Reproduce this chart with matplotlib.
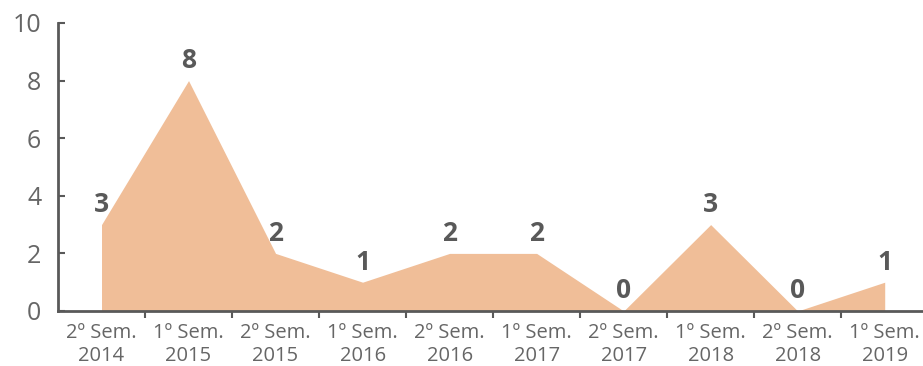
import matplotlib
matplotlib.use("Agg")
import matplotlib.pyplot as plt
import numpy as np

categories = ["2º Sem.\n2014", "1º Sem.\n2015", "2º Sem.\n2015", "1º Sem.\n2016", "2º Sem.\n2016",
              "1º Sem.\n2017", "2º Sem.\n2017", "1º Sem.\n2018", "2º Sem.\n2018", "1º Sem.\n2019"]
values = [3, 8, 2, 1, 2, 2, 0, 3, 0, 1]
y_ticks = [0, 2, 4, 6, 8, 10]

plt.rcParams['font.family'] = ['Open Sans', 'DejaVu Sans']

fig = plt.figure(figsize=(9.23, 3.66), dpi=100)
ax = fig.add_axes([58/923, 55/366, 1 - 58/923, (311-23)/366])

x = np.arange(len(values))
ax.fill_between(x, values, 0, color="#F0BE98", linewidth=0)

for xi, v in zip(x, values):
    ax.annotate(str(v), (xi, v), xytext=(0, 9), textcoords="offset points",
                ha="center", va="baseline", fontsize=19, fontweight="bold", color="#595959")

ax.set_xlim(-0.5, 9.44)
ax.set_ylim(0, 10)
ax.set_yticks(y_ticks)
ax.set_yticklabels([str(t) for t in y_ticks])
ax.tick_params(axis="y", direction="in", length=5, width=1.5, colors="#595959",
               labelsize=18, pad=12)
for lab in ax.get_yticklabels():
    lab.set_color("#666666")

ax.set_xticks(x)
ax.set_xticklabels(categories, linespacing=1.15)
ax.tick_params(axis="x", which="major", length=0, labelsize=14.5, labelcolor="#666666", pad=9)
ax.set_xticks(x[:-1] + 0.5, minor=True)
ax.tick_params(axis="x", which="minor", direction="out", length=5, width=1.5, color="#595959")

for s in ["top", "right"]:
    ax.spines[s].set_visible(False)
for s in ["left", "bottom"]:
    ax.spines[s].set_color("#595959")
    ax.spines[s].set_linewidth(2)

fig.savefig("out.png", dpi=100)
